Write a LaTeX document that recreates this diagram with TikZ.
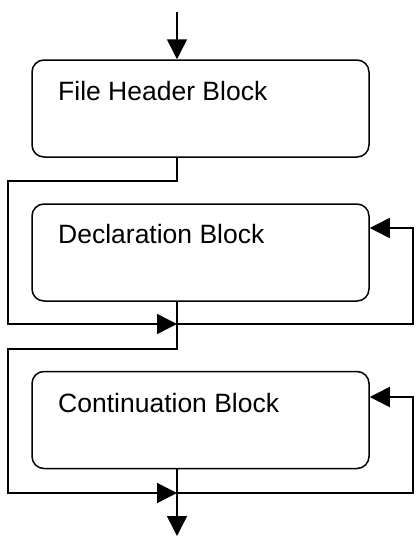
\documentclass[tikz,border=0pt]{standalone}
\usepackage{fontspec}
\setmainfont{Liberation Sans}
\usetikzlibrary{arrows.meta}
\begin{document}
\begin{tikzpicture}[x=1pt,y=-1pt,
  blockbox/.style={draw=black,line width=1.5pt,rounded corners=12pt,minimum width=337pt,minimum height=97pt,inner sep=0pt},
  blocktext/.style={anchor=base west,inner sep=0pt,font=\fontsize{26.5}{30}\selectfont},
  conn/.style={line width=1.5pt},
  arr/.style={conn,-{Triangle[length=20pt,width=20pt]}}]
\useasboundingbox (0,0) rectangle (416,536);
\node[blockbox] (b1) at (200.5,108.5) {};
\node[blockbox] (b2) at (200.5,252.5) {};
\node[blockbox] (b3) at (200.5,420) {};
\node[blocktext] (t1) at (58,100) {File Header Block};
\node[blocktext] (t2) at (58,243) {Declaration Block};
\node[blocktext] (t3) at (58,412) {Continuation Block};
\coordinate (in) at (177,12);
\coordinate (c1) at (8,181);
\coordinate (j1) at (177,324);
\coordinate (f1) at (413,228);
\coordinate (c2) at (8,349);
\coordinate (j2) at (177,493);
\coordinate (f2) at (413,397);
\coordinate (out) at (177,536);
\draw[arr] (in) -- (in |- b1.north);
\draw[arr] (b1.south -| j1) |- (c1) |- (j1);
\draw[conn] (b2.south -| j1) -- (j1);
\draw[arr] (j1) -| (f1) -- (f1 -| b2.east);
\draw[arr] (j1) |- (c2) |- (j2);
\draw[conn] (b3.south -| j2) -- (j2);
\draw[arr] (j2) -| (f2) -- (f2 -| b3.east);
\draw[arr] (j2) -- (out);
\end{tikzpicture}
\end{document}
